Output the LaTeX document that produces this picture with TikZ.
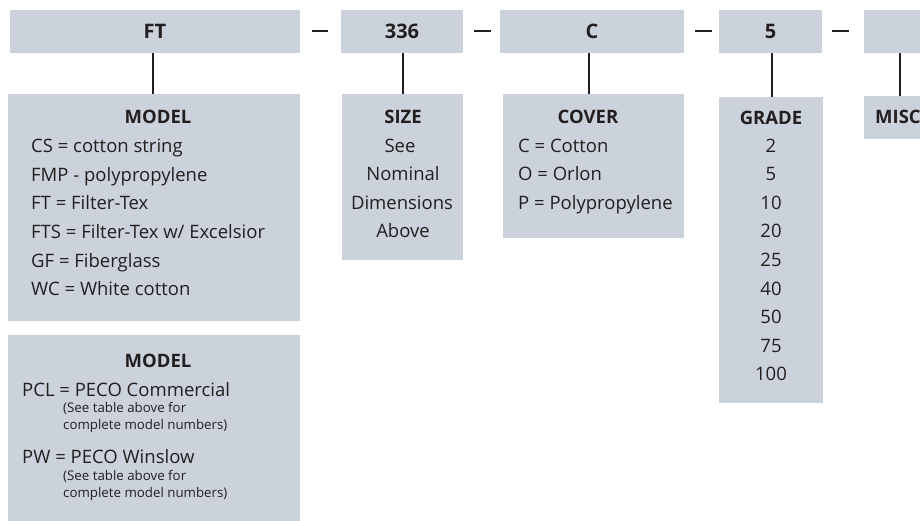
\documentclass[tikz,border=0pt]{standalone}
\usepackage{fontspec}
\setmainfont{Open Sans}
\definecolor{boxfill}{HTML}{CBD2DB}
\definecolor{ink}{HTML}{231F20}
\begin{document}
\begin{tikzpicture}[x=1pt,y=-1pt,
  box/.style={fill=boxfill,draw=none,inner sep=0pt,outer sep=0pt},
  top/.style={font=\fontsize{20}{20}\selectfont\bfseries,text=ink,inner sep=0pt},
  hd/.style={font=\fontsize{18.5}{18.5}\selectfont\bfseries,text=ink,inner sep=0pt,anchor=base},
  lbl/.style={font=\fontsize{18.5}{18.5}\selectfont,text=ink,inner sep=0pt,anchor=base},
  lbw/.style={lbl,anchor=base west},
  sml/.style={font=\fontsize{13.3}{13.3}\selectfont,text=ink,inner sep=0pt,anchor=base west},
  conn/.style={draw=ink,line width=2pt},
  dsh/.style={draw=ink,line width=1.2pt}]
\useasboundingbox (0,0) rectangle (920,521);
% top boxes
\path[box] (10,10) rectangle (300,53) node[midway,top] (tft) {FT};
\path[box] (341,10) rectangle (463,53) node[midway,top] (t336) {336};
\path[box] (500,10) rectangle (684,53) node[midway,top] (tc) {C};
\path[box] (719,10) rectangle (822,53) node[midway,top] (t5) {5};
\path[box] (864,10) rectangle (920,53);
\coordinate (ftb) at (153,53);
\coordinate (b336) at (403,53);
\coordinate (cb) at (589,53);
\coordinate (fb) at (772,53);
\coordinate (mb) at (900,53);
% dashes
\coordinate (d1a) at (312,31); \coordinate (d1b) at (328,31);
\coordinate (d2a) at (474,31); \coordinate (d2b) at (491,31);
\coordinate (d3a) at (695,31); \coordinate (d3b) at (712,31);
\coordinate (d4a) at (832,31); \coordinate (d4b) at (849,31);
\draw[dsh] (d1a) -- (d1b);
\draw[dsh] (d2a) -- (d2b);
\draw[dsh] (d3a) -- (d3b);
\draw[dsh] (d4a) -- (d4b);
% lower boxes
\path[box] (8,94) rectangle (300,321);
\path[box] (8,335) rectangle (300,521);
\path[box] (342,94) rectangle (463,260);
\path[box] (503,94) rectangle (684,238);
\path[box] (719,97) rectangle (823,403);
\path[box] (864,96) rectangle (920,139);
\coordinate (mt) at (153,94);
\coordinate (st) at (403,94);
\coordinate (ct) at (589,94);
\coordinate (gt) at (772,97);
\coordinate (mit) at (900,96);
\draw[conn] (ftb) -- (mt);
\draw[conn] (b336) -- (st);
\draw[conn] (cb) -- (ct);
\draw[conn] (fb) -- (gt);
\draw[conn] (mb) -- (mit);
% MODEL 1
\node[hd] (m1h) at (158,124) {MODEL};
\node[lbw] (m1a) at (31,153) {CS = cotton string};
\node[lbw] (m1b) at (31,181.5) {FMP - polypropylene};
\node[lbw] (m1c) at (31,210) {FT = Filter-Tex};
\node[lbw] (m1d) at (31,238.5) {FTS = Filter-Tex w/ Excelsior};
\node[lbw] (m1e) at (31,267) {GF = Fiberglass};
\node[lbw] (m1f) at (31,295.5) {WC = White cotton};
% SIZE
\node[hd] (sh) at (403,124) {SIZE};
\node[lbl] (sa) at (400,152.5) {See};
\node[lbl] (sb) at (403,181) {Nominal};
\node[lbl] (sc) at (402,209.5) {Dimensions};
\node[lbl] (sd) at (403,238) {Above};
% COVER
\node[hd] (ch) at (588,124) {COVER};
\node[lbw] (ca) at (518,152.5) {C = Cotton};
\node[lbw] (cb2) at (518,181) {O = Orlon};
\node[lbw] (cc) at (518,209.5) {P = Polypropylene};
% GRADE
\node[hd] (gh) at (771,125) {GRADE};
\node[lbl] (g1) at (771,152.5) {2};
\node[lbl] (g2) at (771,181) {5};
\node[lbl] (g3) at (771,209.5) {10};
\node[lbl] (g4) at (771,238) {20};
\node[lbl] (g5) at (771,266.5) {25};
\node[lbl] (g6) at (771,295) {40};
\node[lbl] (g7) at (771,323.5) {50};
\node[lbl] (g8) at (771,352) {75};
\node[lbl] (g9) at (771,380.5) {100};
% MISC
\node[hd,anchor=base west] (mh) at (875,124) {MISC};
% MODEL 2
\node[hd] (m2h) at (158,367) {MODEL};
\node[lbw] (p1) at (22,396) {PCL = PECO Commercial};
\node[sml] (p1a) at (63,412) {(See table above for};
\node[sml] (p1b) at (63,429) {complete model numbers)};
\node[lbw] (p2) at (22,463) {PW = PECO Winslow};
\node[sml] (p2a) at (63,480) {(See table above for};
\node[sml] (p2b) at (63,497) {complete model numbers)};
\end{tikzpicture}
\end{document}
